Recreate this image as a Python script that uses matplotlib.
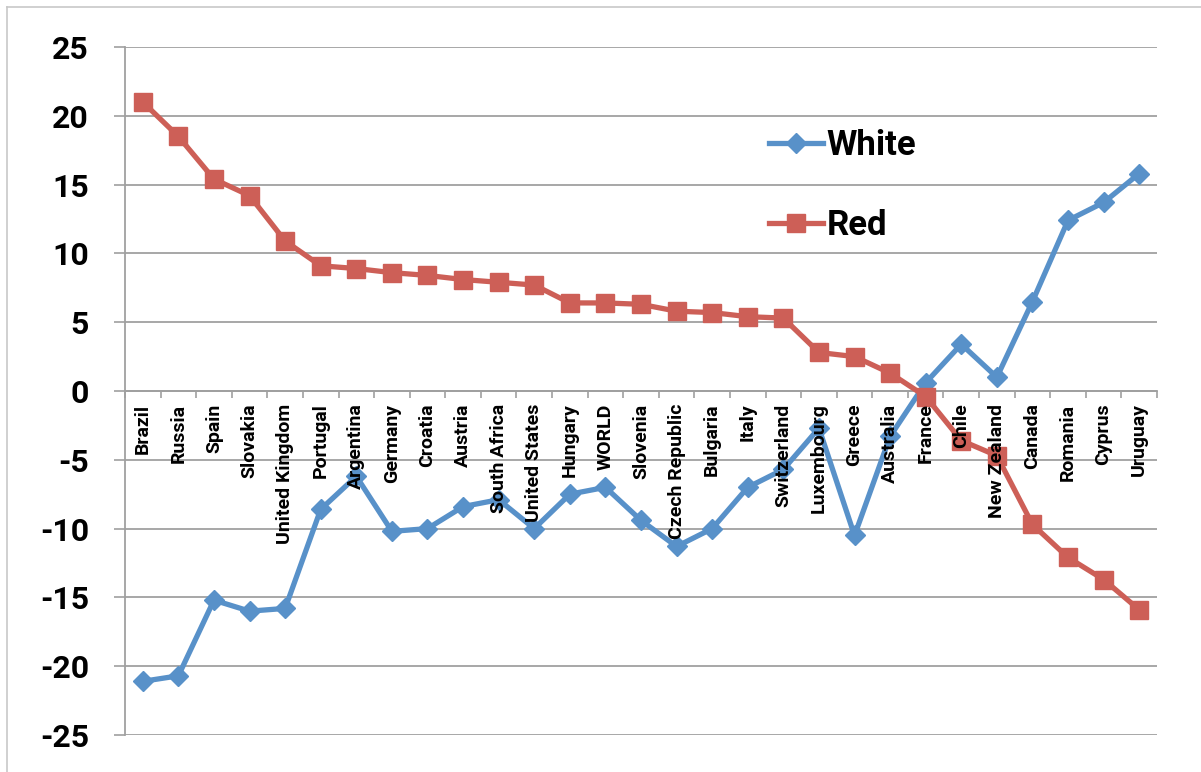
import matplotlib.pyplot as plt
from matplotlib.lines import Line2D
import numpy as np

paises = ["Brazil", "Russia", "Spain", "Slovakia", "United Kingdom", "Portugal",
          "Argentina", "Germany", "Croatia", "Austria", "South Africa",
          "United States", "Hungary", "WORLD", "Slovenia", "Czech Republic",
          "Bulgaria", "Italy", "Switzerland", "Luxembourg", "Greece", "Australia",
          "France", "Chile", "New Zealand", "Canada", "Romania", "Cyprus", "Uruguay"]

white = [-21.1, -20.7, -15.2, -16.0, -15.8, -8.6, -6.2, -10.2, -10.0, -8.4, -7.9,
         -10.0, -7.5, -7.0, -9.4, -11.3, -10.0, -7.0, -5.7, -2.7, -10.5, -3.3,
         0.6, 3.4, 1.0, 6.5, 12.4, 13.7, 15.8]

red = [21.0, 18.5, 15.4, 14.2, 10.9, 9.1, 8.9, 8.6, 8.4, 8.1, 7.9, 7.7, 6.4, 6.4,
       6.3, 5.8, 5.7, 5.4, 5.3, 2.8, 2.5, 1.3, -0.4, -3.6, -4.7, -9.7, -12.1,
       -13.7, -15.9]

yticks = list(range(-25, 26, 5))

azul = '#5891C9'
rojo = '#CD5F57'
gris = '#A0A0A0'

plt.rcParams['font.family'] = ['Roboto', 'DejaVu Sans']
plt.rcParams['font.weight'] = 'bold'

W, H = 1201, 772
fig = plt.figure(figsize=(W / 100, H / 100), dpi=100)
fig.patch.set_facecolor('white')

# borde del area del grafico (solo se ve arriba y a la izquierda)
fig.add_artist(Line2D([7 / W, 7 / W], [0, 1 - 7 / H], color='#C8C8C8', lw=1.2,
                      transform=fig.transFigure))
fig.add_artist(Line2D([7 / W, 1], [1 - 7 / H, 1 - 7 / H], color='#C8C8C8', lw=1.2,
                      transform=fig.transFigure))

ax = fig.add_axes([125 / W, 37 / H, (1157 - 125) / W, 688 / H])
x = np.arange(len(paises))

ax.plot(x, white, color=azul, lw=3.8, marker='D', ms=10.5, mec=azul, mfc=azul,
        label='White', zorder=2)
ax.plot(x, red, color=rojo, lw=3.8, marker='s', ms=13.5, mec=rojo, mfc=rojo,
        label='Red', zorder=2)

ax.set_xlim(-0.5, len(paises) - 0.5)
ax.set_ylim(-25, 25)
ax.set_yticks(yticks)
ax.set_yticklabels([str(v) for v in yticks], fontsize=23, fontweight='bold')
ax.tick_params(axis='y', length=8, width=1.2, color=gris, pad=18)
ax.yaxis.grid(True, color=gris, lw=1.3)
ax.set_axisbelow(True)
# las etiquetas de paises van encima de las lineas
ax.xaxis.set_zorder(3)

ax.spines['top'].set_visible(False)
ax.spines['right'].set_visible(False)
ax.spines['left'].set_color(gris)
ax.spines['left'].set_linewidth(1.3)
ax.spines['bottom'].set_position(('data', 0))
ax.spines['bottom'].set_color(gris)
ax.spines['bottom'].set_linewidth(1.3)
ax.spines['bottom'].set_zorder(1)

ax.set_xticks(x)
ax.set_xticklabels(paises, rotation=90, va='top', ha='center', fontsize=14,
                   fontweight='bold')
ax.set_xticks(np.arange(-0.5, len(paises), 1), minor=True)
ax.tick_params(axis='x', which='major', length=0, pad=9)
ax.tick_params(axis='x', which='minor', length=5, width=1.2, color=gris,
               direction='out')

leg = ax.legend(loc='upper left', bbox_to_anchor=(752 / W, 1 - 112 / H),
                bbox_transform=fig.transFigure, frameon=False,
                prop={'size': 25, 'weight': 'bold'}, handlelength=1.55,
                handletextpad=0.1, labelspacing=1.35, borderpad=0)

fig.savefig('out.png', dpi=100)
